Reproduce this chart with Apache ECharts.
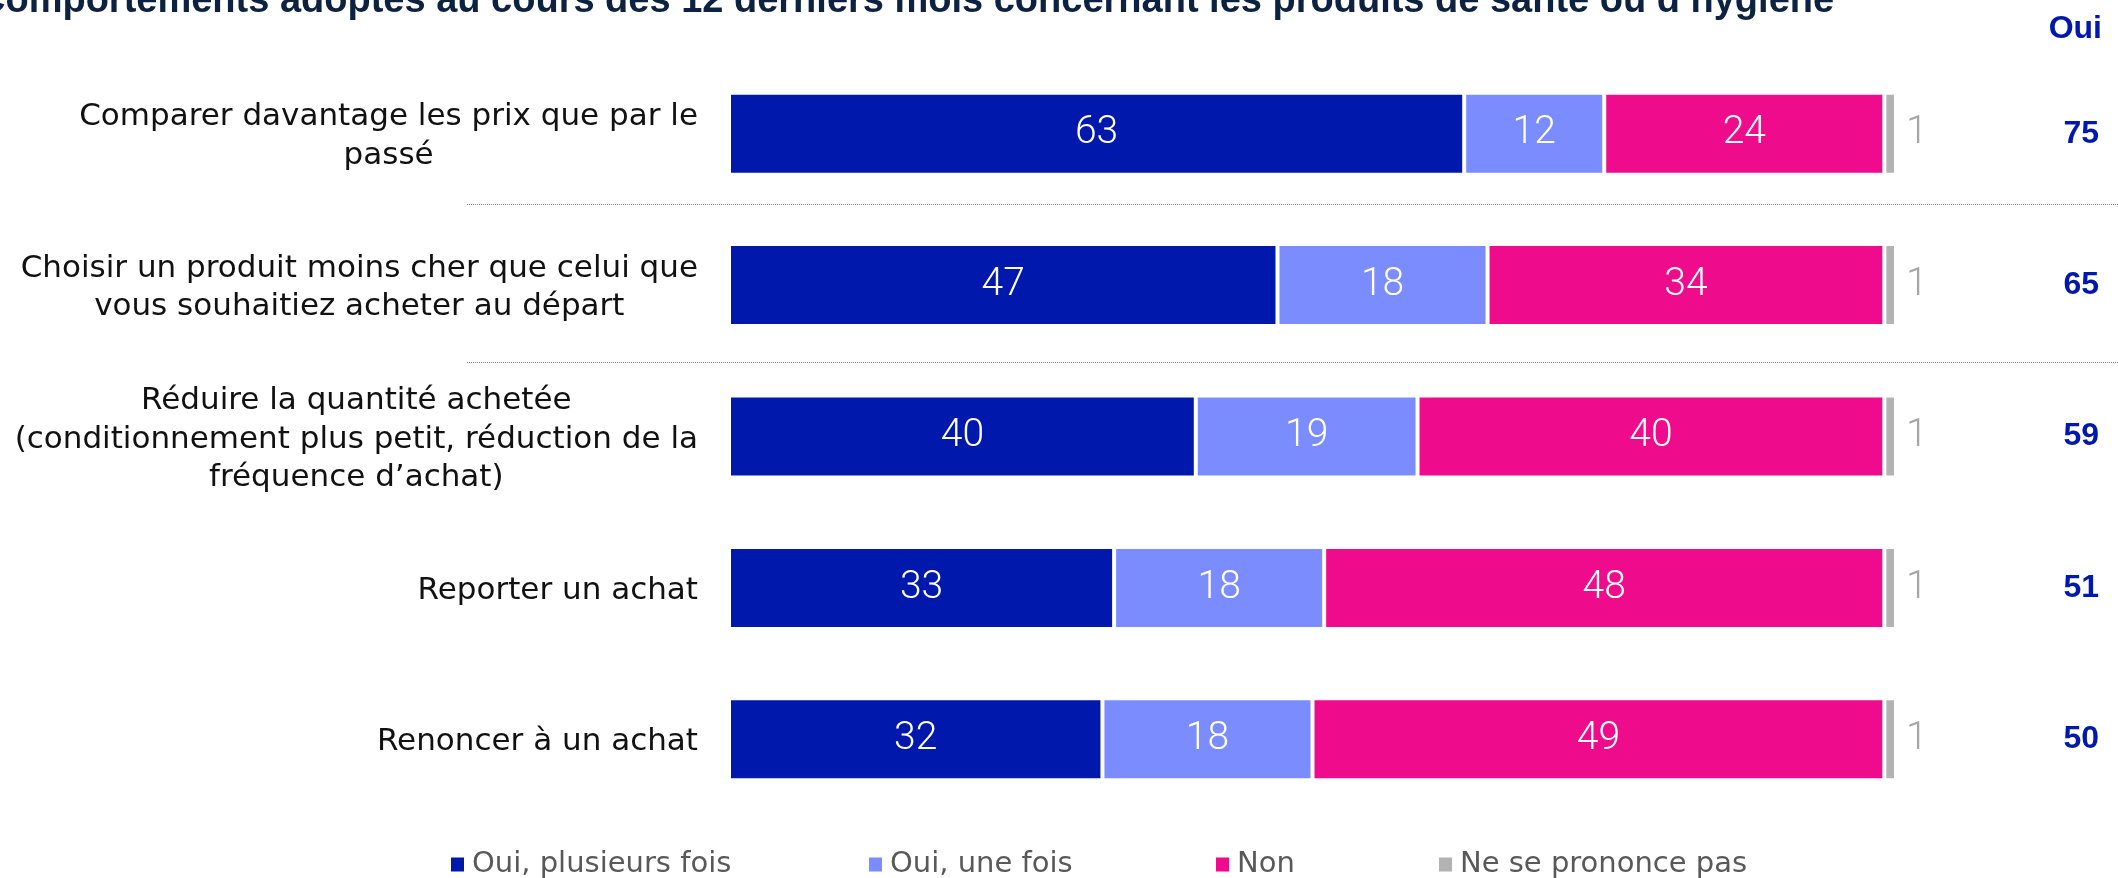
<!DOCTYPE html>
<html><head><meta charset="utf-8">
<script src="https://cdn.jsdelivr.net/npm/echarts@6/dist/echarts.min.js"></script>
<style>html,body{margin:0;padding:0;background:#fff}#c{width:2118px;height:878px}</style>
</head><body><div id="c"></div>
<script>
const titleText = "Comportements adoptés au cours des 12 derniers mois concernant les produits de santé ou d’hygiène";
const categories = [
  "Comparer davantage les prix que par le\npassé",
  "Choisir un produit moins cher que celui que\nvous souhaitiez acheter au départ",
  "Réduire la quantité achetée\n(conditionnement plus petit, réduction de la\nfréquence d’achat)",
  "Reporter un achat",
  "Renoncer à un achat"
];
const seriesNames = ["Oui, plusieurs fois", "Oui, une fois", "Non", "Ne se prononce pas"];
const ouiPlusieurs = [63, 47, 40, 33, 32];
const ouiUne = [12, 18, 19, 18, 18];
const non = [24, 34, 40, 48, 49];
const nsp = [1, 1, 1, 1, 1];
const ouiTotals = [75, 65, 59, 51, 50];

const colors = ["#0019AC", "#7B8CFF", "#EE0B8C", "#B3B3B3"];
const values = [ouiPlusieurs, ouiUne, non, nsp];
const legendLeft = [446, 864, 1211, 1434];

const chart = echarts.init(document.getElementById('c'));
const labelFont = 'DejaVu Sans';

const series = values.map((v, i) => ({
  name: seriesNames[i],
  type: 'bar',
  stack: 'total',
  barWidth: 82,
  xAxisIndex: 0,
  yAxisIndex: 0,
  data: v,
  itemStyle: { color: colors[i], borderColor: '#fff', borderWidth: 2 },
  label: i < 3 ? {
    show: true, position: 'inside', color: '#fff',
    fontFamily: 'Roboto', fontWeight: 300, fontSize: 39
  } : {
    show: true, position: 'right', distance: 10, color: '#A6A6A6',
    fontFamily: 'Roboto', fontWeight: 300, fontSize: 39
  },
  emphasis: { disabled: true }
}));

chart.setOption({
  animation: false,
  backgroundColor: '#fff',
  title: [
    { text: titleText, left: -27, top: -22,
      textStyle: { fontFamily: 'Liberation Sans', fontWeight: 'bold', fontSize: 38, color: '#0D2240' } },
    { text: 'Oui', right: 11, top: 8,
      textStyle: { fontFamily: 'Liberation Sans', fontWeight: 'bold', fontSize: 32, color: '#0019AC' } }
  ],
  legend: seriesNames.map((n, i) => ({
    data: [n], left: legendLeft[i], top: 845,
    itemWidth: 13, itemHeight: 14,
    icon: 'rect',
    itemStyle: { borderWidth: 0 },
    textStyle: { fontFamily: labelFont, fontSize: 29, color: '#595959', padding: [0, 0, 0, 3] },
    selectedMode: false
  })),
  grid: [
    { left: 729, right: 222, top: 58, bottom: 63 },
    { left: 467, right: 0, top: 46, bottom: 42 }
  ],
  xAxis: [
    { type: 'value', min: 0, max: 100, show: false, gridIndex: 0 },
    { type: 'value', min: 0, max: 100, show: false, gridIndex: 1 }
  ],
  yAxis: [
    {
      type: 'category', data: categories, inverse: true, gridIndex: 0,
      axisLine: { show: false }, axisTick: { show: false },
      axisLabel: {
        margin: 31, align: 'right', fontFamily: labelFont, fontSize: 31, color: '#111',
        padding: [6, 0, 0, 0],
        formatter: (val) => val.split('\n').map(s => '{c|' + s + '}').join('\n'),
        rich: { c: { align: 'center', fontFamily: labelFont, fontSize: 31, lineHeight: 38.5, color: '#111' } }
      }
    },
    {
      type: 'category', data: ouiTotals.map(String), inverse: true, gridIndex: 0, position: 'right',
      axisLine: { show: false }, axisTick: { show: false },
      axisLabel: { margin: 203, align: 'right', fontFamily: 'Liberation Sans', fontWeight: 'bold', fontSize: 32, color: '#0019AC' }
    },
    {
      type: 'category', data: categories, inverse: true, gridIndex: 1,
      axisLine: { show: false }, axisTick: { show: false }, axisLabel: { show: false },
      splitLine: {
        show: true, showMinLine: false, showMaxLine: false,
        interval: (idx) => idx <= 2,
        lineStyle: { type: 'dotted', color: '#8C8C8C', width: 1 }
      }
    }
  ],
  series: series
});
</script>
</body></html>
